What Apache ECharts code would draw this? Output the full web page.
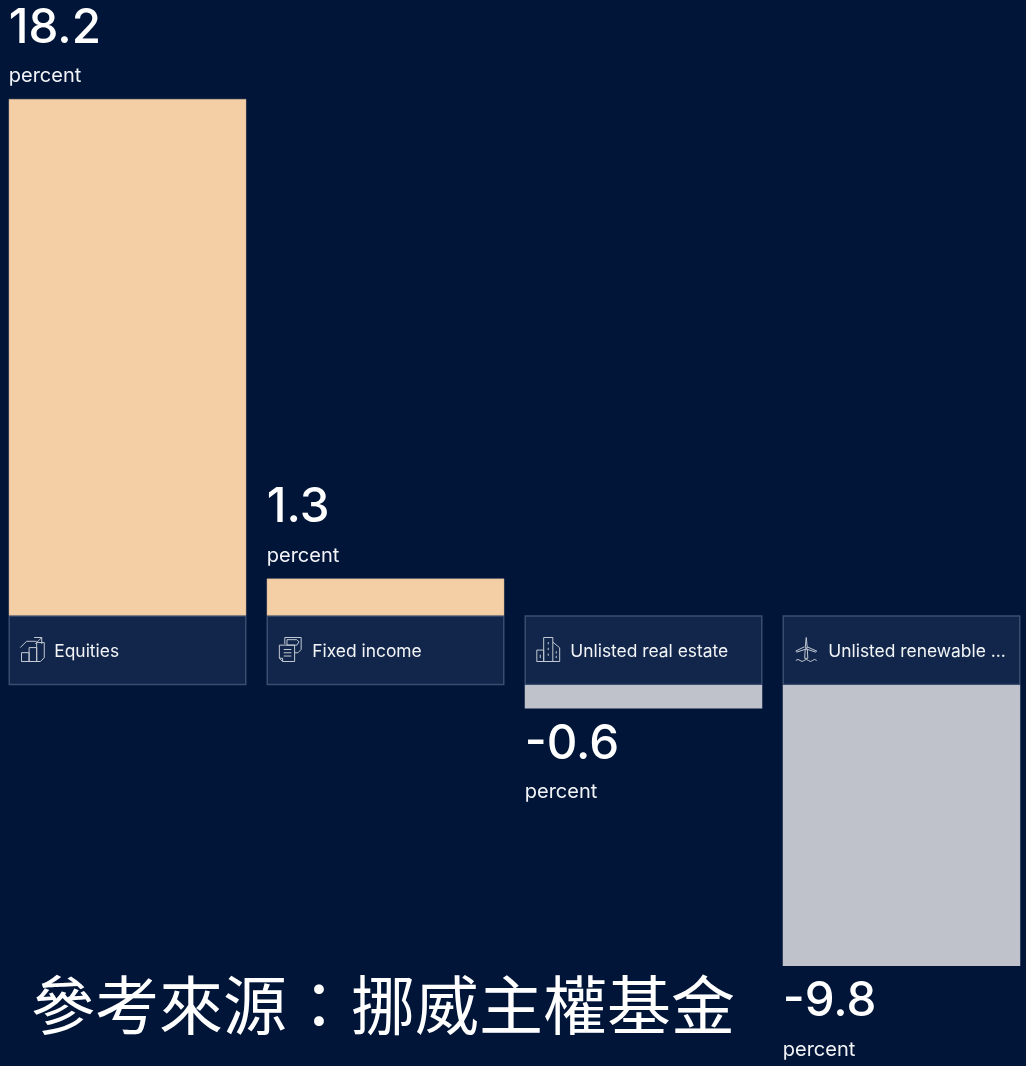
<!DOCTYPE html>
<html>
<head>
<meta charset="utf-8">
<style>html,body{margin:0;padding:0;background:#001538}#c{width:1026px;height:1066px}</style>
<script src="https://cdn.jsdelivr.net/npm/echarts@6/dist/echarts.min.js"></script>
</head>
<body>
<div id="c"></div>
<script>
const categories = ['Equities', 'Fixed income', 'Unlisted real estate', 'Unlisted renewable ...'];
const positiveValues = [18.2, 1.3, null, null];
const negativeValues = [null, null, -0.6, -9.8];
const unitLabel = 'percent';
const sourceNote = '參考來源：挪威主權基金';

const ICONS = [
  'M2 22V15H8V22Z M8 22V11H14V22Z M14 22V7H20V19L17 22H2 M1 11L6 6H14 M12 3H18V8 M18 3L13 8',
  'M7 7V1H22V12L19 15H16 M9 8V3H18L20 5L18 8Z M2 8H16V23H5L2 20Z M2 20H5V23 M6 12H13 M6 15H13 M6 18H13',
  'M1 23V13H7V23Z M7 23V2H15V23 M15 6L21 11V23H1 M11 6V8 M11 11V13 M11 16V18 M18 14V16 M18 18V20 M4 17V20',
  'M12 1L13 11H11Z M12 12L3 15L2 14L10 10 M13 10L22 14L21 15L12 12 M11 12H13L13.500 21H10.500Z M2 23Q4 21 6 23T10 23T14 23T18 23T22 23'
];

function cardItem(params, api) {
  const idx = api.value(0);
  const top = api.coord([idx, 1]);
  const bottom = api.coord([idx, 0]);
  const w = api.size([1, 0])[0] * 0.9205;
  const x = top[0] - w / 2;
  return {
    type: 'group',
    children: [
      { type: 'rect', shape: { x: x + 0.5, y: top[1] + 0.5, width: w - 1, height: bottom[1] - top[1] - 1 },
        style: { fill: '#11264A', stroke: '#3A4D6F', lineWidth: 1.5 } },
      { type: 'path', shape: { pathData: ICONS[idx], x: x + 11.5, y: top[1] + 22, width: 24, height: 24, layout: 'center' },
        style: { fill: 'none', stroke: '#C3C9D3', lineWidth: 1 } },
      { type: 'text', x: x + 45.5, y: (top[1] + bottom[1]) / 2 + 2,
        style: { text: categories[idx], fill: '#F2F4F7', font: '400 17.4px Inter, sans-serif', textVerticalAlign: 'middle', textAlign: 'left' } }
    ]
  };
}

const rich = {
  v: { fontFamily: 'Inter, sans-serif', fontSize: 47.5, fontWeight: 500, color: '#FFFFFF', lineHeight: 54 },
  p: { fontFamily: 'Inter, sans-serif', fontSize: 20, fontWeight: 400, color: '#F2F4F7', lineHeight: 41 }
};
const labelFmt = p => '{v|' + p.value + '}\n{p|' + unitLabel + '}';

const chart = echarts.init(document.getElementById('c'), null, { renderer: 'canvas' });
const xAxisBase = { type: 'category', data: categories, show: false };
const yAxisBase = { type: 'value', show: false };
const gridBase = { left: -1.5, width: 1032, outerBoundsMode: 'none' };

chart.setOption({
  animation: false,
  backgroundColor: '#001538',
  title: {
    text: sourceNote, left: 26, top: 968,
    textStyle: { fontFamily: '"Noto Sans CJK TC", sans-serif', fontSize: 64, fontWeight: 400, color: '#FFFFFF' }
  },
  grid: [
    Object.assign({ top: 99, height: 516.5 }, gridBase),
    Object.assign({ top: 685, height: 281 }, gridBase),
    Object.assign({ top: 615.5, height: 69.5 }, gridBase)
  ],
  xAxis: [0, 1, 2].map(i => Object.assign({ gridIndex: i }, xAxisBase)),
  yAxis: [
    Object.assign({ gridIndex: 0, min: 0, max: 18.2 }, yAxisBase),
    Object.assign({ gridIndex: 1, min: -9.8, max: 0 }, yAxisBase),
    Object.assign({ gridIndex: 2, min: 0, max: 1 }, yAxisBase)
  ],
  series: [
    { type: 'bar', xAxisIndex: 0, yAxisIndex: 0, data: positiveValues, barWidth: 237.5,
      itemStyle: { color: '#F4CEA5', borderColor: '#C9AE93', borderWidth: 0.5 },
      label: { show: true, position: [0, -97.5], align: 'left', formatter: labelFmt, rich: rich } },
    { type: 'bar', xAxisIndex: 1, yAxisIndex: 1, data: negativeValues, barWidth: 237.5, barMinHeight: 23.5,
      itemStyle: { color: '#BFC2CB' },
      label: { show: true, position: ['0%', '100%'], align: 'left', distance: 0, offset: [0, 9], formatter: labelFmt, rich: rich } },
    { type: 'custom', xAxisIndex: 2, yAxisIndex: 2, renderItem: cardItem, data: categories.map((c, i) => [i]), encode: { x: 0 }, silent: true }
  ]
});
</script>
</body>
</html>
